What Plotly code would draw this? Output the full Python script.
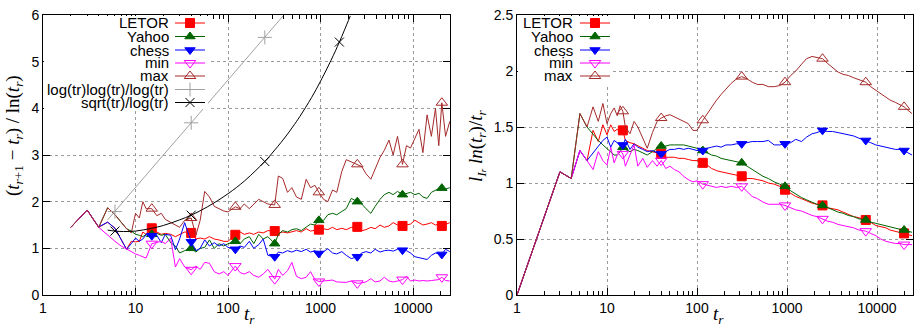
import plotly.graph_objects as go

# ---------------- data ----------------
XTICKS = [1, 10, 100, 1000, 10000]
XTICK_TEXT = ["1", "10", "100", "1000", "10000"]

# left panel: (t_{r+1} - t_r)/ln(t_r)
X_L = [2, 3, 4, 5, 6, 7, 8, 9, 10, 11, 12, 13,
       15, 17, 19, 21, 24, 27, 30, 34, 40,
       45, 50, 56, 63, 71, 80, 90, 100,
       120, 135, 150, 170, 190, 215, 240, 270, 320,
       350, 390, 440, 490, 550, 620, 700, 780, 870, 960,
       1080, 1200, 1350, 1500, 1700, 1900, 2150, 2500,
       2800, 3100, 3500, 3900, 4400, 4900, 5500, 6100, 6800, 7700,
       8500, 9400, 10500, 11600, 12800, 14200, 15800, 17500, 19000, 20500, 22500, 25000]

LETOR_L = [1.45, 1.82, 1.45, 1.56, 1.43, 1.20, 0.98, 1.15, 1.14, 1.15, 1.35, 1.30,
           1.43, 1.35, 1.30, 1.32, 1.30, 1.25, 1.30, 1.35, 1.33,
           1.20, 1.22, 1.20, 1.25, 1.20, 1.18, 1.15, 1.15,
           1.29, 1.35, 1.30, 1.33, 1.30, 1.35, 1.33, 1.38, 1.37,
           1.32, 1.35, 1.33, 1.35, 1.38, 1.35, 1.42, 1.37, 1.38, 1.40,
           1.42, 1.40, 1.45, 1.40, 1.43, 1.40, 1.45, 1.46,
           1.38, 1.40, 1.45, 1.42, 1.50, 1.45, 1.48, 1.55, 1.50, 1.48,
           1.50, 1.52, 1.60, 1.55, 1.50, 1.52, 1.55, 1.50, 1.52, 1.48, 1.52, 1.55]

YAHOO_L = [1.45, 1.82, 1.45, 1.87, 1.72, 1.55, 1.42, 1.37, 1.30, 1.28, 1.25, 1.30,
           1.30, 1.32, 1.28, 1.30, 1.12, 1.05, 0.90, 0.95, 1.00,
           0.92, 1.00, 1.02, 1.18, 1.00, 1.10, 1.05, 1.10,
           1.15, 1.10, 1.20, 1.25, 1.10, 1.30, 1.20, 1.25, 1.10,
           1.30, 1.38, 1.35, 1.40, 1.42, 1.38, 1.46, 1.52, 1.50, 1.60,
           1.60, 1.72, 1.75, 1.72, 1.79, 1.85, 2.07, 2.00,
           1.95, 1.85, 1.75, 1.90, 2.05, 2.15, 2.20, 2.15, 2.22, 2.15,
           2.18, 2.20, 2.15, 2.18, 2.10, 2.07, 2.20, 2.25, 2.28, 2.29, 2.27, 2.30]

CHESS_L = [1.45, 1.82, 1.46, 1.56, 1.43, 1.20, 0.98, 1.10, 1.22, 1.15, 1.20, 1.29,
           1.27, 1.28, 1.12, 1.30, 1.28, 0.97, 1.20, 1.55, 1.14,
           0.95, 1.00, 1.18, 1.05, 1.12, 1.05, 1.10, 1.02,
           0.98, 1.05, 1.02, 1.15, 1.00, 1.08, 1.20, 0.85, 0.82,
           0.92, 0.90, 0.95, 0.92, 0.96, 0.93, 0.98, 0.92, 0.95, 0.89,
           0.93, 0.99, 0.90, 0.88, 0.93, 0.85, 0.78, 0.82,
           0.90, 0.93, 0.90, 0.98, 0.92, 0.95, 0.96, 0.94, 0.98, 0.96,
           0.95, 0.90, 0.82, 0.80, 0.78, 0.76, 0.85, 0.90, 0.88, 0.87, 0.98, 0.93]

MIN_L = [1.45, 1.82, 1.45, 1.28, 1.15, 1.05, 0.98, 0.93, 0.88, 0.85, 0.82, 0.79,
         1.10, 1.12, 1.15, 1.10, 1.22, 0.60, 0.78, 0.60, 0.54,
         0.62, 0.55, 0.70, 0.68, 0.50, 0.45, 0.50, 0.42,
         0.62, 0.48, 0.45, 0.50, 0.42, 0.38, 0.45, 0.55, 0.34,
         0.55, 0.42, 0.52, 0.70, 0.40, 0.35, 0.38, 0.50, 0.33, 0.29,
         0.30, 0.30, 0.32, 0.28, 0.27, 0.27, 0.30, 0.25,
         0.26, 0.28, 0.35, 0.28, 0.30, 0.38, 0.30, 0.28, 0.30, 0.33,
         0.40, 0.30, 0.32, 0.30, 0.31, 0.30, 0.31, 0.32, 0.33, 0.38, 0.31, 0.30]

MAX_L = [1.45, 1.82, 1.45, 1.87, 1.72, 1.55, 1.42, 1.33, 1.75, 1.65, 2.00, 1.85,
         1.85, 1.70, 1.75, 1.62, 1.55, 1.50, 1.45, 1.60, 1.65,
         1.28, 1.60, 2.22, 2.10, 1.90, 1.85, 1.80, 1.78,
         1.89, 1.85, 1.95, 1.85, 1.95, 2.05, 2.00, 1.95, 1.93,
         2.55, 2.50, 2.20, 2.30, 2.10, 2.05, 2.48, 2.30, 2.35, 2.20,
         2.05, 2.00, 2.25, 2.20, 2.65, 2.90, 2.85, 2.80,
         2.75, 2.60, 2.48, 2.70, 2.95, 3.10, 3.32, 3.00, 3.40, 2.80,
         3.20, 3.15, 3.35, 3.55, 3.05, 3.86, 3.40, 4.00, 3.20, 4.12, 3.40, 3.72]

# reference curves
LOG_X = [5, 6, 10, 20, 40, 100, 250, 394]
LOG_Y = [1.61, 1.79, 2.30, 3.00, 3.69, 4.60, 5.52, 5.98]
SQRT_X = [5, 6, 7.4, 10, 15, 20, 30, 40, 60, 100, 150, 200, 250, 300, 400, 500, 600,
          800, 1000, 1300, 1600, 1800, 2100]
SQRT_Y = [1.39, 1.37, 1.36, 1.37, 1.43, 1.49, 1.61, 1.71, 1.89, 2.17, 2.44, 2.67, 2.86, 3.04,
          3.34, 3.60, 3.83, 4.23, 4.58, 5.03, 5.42, 5.66, 5.98]
FUNC_MARK_X = [6, 40, 250, 1600]

MARK_X_L = [15, 40, 120, 320, 960, 2500, 7700, 20500]

# right panel: l_{I_r} ln(t_r)/t_r
X_R = [1, 2, 3, 4, 5, 6, 7, 8, 9, 10, 11, 12, 13, 14, 15, 16,
       18, 20, 22, 25, 28, 32, 36, 40,
       45, 50, 56, 63, 71, 80, 90, 100,
       116, 130, 145, 165, 185, 210, 240, 275, 314,
       360, 410, 470, 540, 620, 720, 830, 950,
       1100, 1250, 1450, 1650, 1900, 2150, 2480,
       2800, 3200, 3700, 4200, 4800, 5500, 6300, 7500,
       8500, 9700, 11000, 12500, 14000, 16000, 18000, 20000, 22000, 24500]

LETOR_R = [0, 0.69, 1.10, 1.04, 1.29, 1.20, 1.47, 1.37, 1.52, 1.43, 1.52, 1.46, 1.48, 1.45, 1.47, 1.38,
           1.36, 1.35, 1.33, 1.31, 1.29, 1.28, 1.27, 1.26,
           1.23, 1.23, 1.23, 1.22, 1.22, 1.21, 1.20, 1.20,
           1.18, 1.16, 1.13, 1.11, 1.10, 1.09, 1.08, 1.07, 1.06,
           1.04, 1.04, 1.03, 1.02, 1.00, 0.99, 0.97, 0.94,
           0.91, 0.88, 0.86, 0.84, 0.82, 0.81, 0.80,
           0.78, 0.77, 0.76, 0.74, 0.72, 0.70, 0.69, 0.67,
           0.65, 0.62, 0.61, 0.60, 0.58, 0.57, 0.56, 0.55, 0.54, 0.53]

YAHOO_R = [0, 0.69, 1.10, 1.04, 1.62, 1.50, 1.43, 1.38, 1.34, 1.31, 1.28, 1.25, 1.25, 1.28, 1.32, 1.30,
           1.28, 1.30, 1.29, 1.27, 1.25, 1.28, 1.31, 1.33,
           1.33, 1.34, 1.34, 1.34, 1.34, 1.33, 1.32, 1.31,
           1.29, 1.27, 1.25, 1.24, 1.22, 1.21, 1.20, 1.19, 1.18,
           1.15, 1.12, 1.09, 1.06, 1.04, 1.01, 0.99, 0.97,
           0.93, 0.90, 0.87, 0.85, 0.83, 0.81, 0.80,
           0.78, 0.76, 0.74, 0.73, 0.71, 0.70, 0.68, 0.67,
           0.65, 0.64, 0.63, 0.62, 0.61, 0.60, 0.59, 0.58, 0.57, 0.56]

CHESS_R = [0, 0.69, 1.10, 1.04, 1.29, 1.20, 1.27, 1.33, 1.38, 1.41, 1.32, 1.38, 1.36, 1.33, 1.34, 1.39,
           1.30, 1.35, 1.32, 1.30, 1.28, 1.29, 1.27, 1.26,
           1.28, 1.30, 1.30, 1.31, 1.30, 1.31, 1.30, 1.29,
           1.29, 1.31, 1.32, 1.33, 1.32, 1.34, 1.34, 1.35, 1.35,
           1.36, 1.37, 1.37, 1.37, 1.38, 1.34, 1.34, 1.35,
           1.36, 1.39, 1.37, 1.41, 1.44, 1.45, 1.47,
           1.46, 1.46, 1.45, 1.44, 1.43, 1.42, 1.40, 1.38,
           1.36, 1.34, 1.33, 1.32, 1.31, 1.30, 1.30, 1.29, 1.27, 1.25]

MIN_R = [0, 0.69, 1.10, 1.04, 1.29, 1.20, 1.12, 1.28, 1.20, 1.16, 1.32, 1.18, 1.25, 1.29, 1.26, 1.15,
         1.25, 1.34, 1.15, 1.22, 1.14, 1.20, 1.15, 1.20,
         1.13, 1.15, 1.12, 1.10, 1.06, 1.03, 1.01, 1.02,
         0.99, 0.98, 0.97, 0.96, 0.97, 0.96, 0.97, 0.96, 0.97,
         0.92, 0.88, 0.86, 0.83, 0.81, 0.81, 0.81, 0.80,
         0.78, 0.76, 0.75, 0.73, 0.71, 0.70, 0.68,
         0.66, 0.65, 0.63, 0.62, 0.61, 0.60, 0.58, 0.57,
         0.55, 0.53, 0.50, 0.48, 0.47, 0.46, 0.46, 0.45, 0.45, 0.45]

MAX_R = [0, 0.69, 1.10, 1.04, 1.62, 1.50, 1.68, 1.55, 1.71, 1.53, 1.62, 1.67, 1.60, 1.69, 1.64, 1.50,
         1.44, 1.55, 1.50, 1.40, 1.31, 1.45, 1.55, 1.58,
         1.60, 1.61, 1.59, 1.57, 1.55, 1.53, 1.47, 1.47,
         1.56, 1.62, 1.68, 1.74, 1.79, 1.84, 1.89, 1.93, 1.95,
         1.93, 1.90, 1.88, 1.88, 1.86, 1.86, 1.87, 1.90,
         1.96, 2.00, 2.06, 2.11, 2.13, 2.12, 2.11,
         2.07, 2.03, 1.99, 1.97, 1.96, 1.94, 1.92, 1.90,
         1.86, 1.83, 1.80, 1.77, 1.74, 1.72, 1.70, 1.68, 1.65, 1.62]

MARK_X_R = [15, 40, 116, 314, 950, 2480, 7500, 20000]

NAMES = ["LETOR", "Yahoo", "chess", "min", "max"]
FUNC_NAMES = ["log(tr)log(tr)/log(tr)", "sqrt(tr)/log(tr)"]

# ---------------- styles ----------------
W, H = 914, 327
STYLES = [
    dict(color="#ff0000", symbol="square", size=9),
    dict(color="#006400", symbol="triangle-up", size=9),
    dict(color="#0000ff", symbol="triangle-down", size=9),
    dict(color="#ff00ff", symbol="triangle-down-open", size=10),
    dict(color="#a52a2a", symbol="triangle-up-open", size=10),
]
FUNC_STYLES = [
    dict(color="#a0a0a0", symbol="cross-thin-open", size=10),
    dict(color="#000000", symbol="x-thin-open", size=9),
]

FONT = "Liberation Sans, Arial, sans-serif"
SERIF = "Liberation Serif, DejaVu Serif, serif"

fig = go.Figure()


def add_series(x, y, st, xa, ya, mark_x, shape="linear"):
    fig.add_trace(go.Scatter(x=x, y=y, mode="lines", xaxis=xa, yaxis=ya, showlegend=False,
                             line=dict(color=st["color"], width=1, shape=shape),
                             hoverinfo="skip"))
    mx = [m for m in mark_x if m in x]
    my = [y[x.index(m)] for m in mx]
    fig.add_trace(go.Scatter(x=mx, y=my, mode="markers", xaxis=xa, yaxis=ya, showlegend=False,
                             marker=dict(color=st["color"], symbol=st["symbol"], size=st["size"],
                                         line=dict(color=st["color"], width=1)),
                             hoverinfo="skip"))


for ser, st in zip([LETOR_L, YAHOO_L, CHESS_L, MIN_L, MAX_L], STYLES):
    add_series(X_L, ser, st, "x", "y", MARK_X_L)
add_series(LOG_X, LOG_Y, FUNC_STYLES[0], "x", "y", FUNC_MARK_X)
add_series(SQRT_X, SQRT_Y, FUNC_STYLES[1], "x", "y", FUNC_MARK_X, shape="spline")

for ser, st in zip([LETOR_R, YAHOO_R, CHESS_R, MIN_R, MAX_R], STYLES):
    add_series(X_R, ser, st, "x2", "y2", MARK_X_R)

# ---------------- manual gnuplot-style legends (pixel overlay axis) ----------------
ROWS = [23, 36.5, 50, 63, 76, 89.5, 102.5]


def white_box(x0, x1, y0, y1):
    fig.add_trace(go.Scatter(x=[x0, x1, x1, x0, x0], y=[y0, y0, y1, y1, y0], mode="lines",
                             fill="toself", fillcolor="white", line=dict(width=0, color="white"),
                             xaxis="x3", yaxis="y3", showlegend=False, hoverinfo="skip"))


def legend(entries, styles, text_right, x0, x1):
    for i, (name, st) in enumerate(zip(entries, styles)):
        yy = ROWS[i]
        fig.add_trace(go.Scatter(x=[x0, x1], y=[yy, yy], mode="lines", xaxis="x3", yaxis="y3",
                                 showlegend=False, line=dict(color=st["color"], width=1),
                                 hoverinfo="skip", cliponaxis=False))
        fig.add_trace(go.Scatter(x=[(x0 + x1) / 2], y=[yy], mode="markers", xaxis="x3", yaxis="y3",
                                 showlegend=False, hoverinfo="skip", cliponaxis=False,
                                 marker=dict(color=st["color"], symbol=st["symbol"], size=st["size"],
                                             line=dict(color=st["color"], width=1))))
        fig.add_annotation(x=text_right / W, y=1 - yy / H, xref="paper", yref="paper",
                           text=name, showarrow=False, xanchor="right", yanchor="middle",
                           font=dict(family=FONT, size=15, color="black"))


# boxes hide the dotted grid behind the keys (as in the gnuplot original)
white_box(44, 208, 16, 109)
white_box(518, 613, 16, 84)
legend(NAMES + FUNC_NAMES, STYLES + FUNC_STYLES, 171, 175, 205)
legend(NAMES, STYLES, 575, 580, 610)

# ---------------- axes ----------------
minor_vals = [m * 10 ** k for k in range(5) for m in range(2, 10)]
L0, L1 = 43 / W, 450 / W
R0, R1 = 517 / W, 913 / W
B, T = (H - 295) / H, (H - 15) / H

xcommon = dict(type="log", range=[0, 4.4], tickmode="array", tickvals=XTICKS, ticktext=XTICK_TEXT,
               ticks="inside", ticklen=7, tickcolor="black", showline=True, linecolor="black",
               linewidth=1, mirror="allticks", showgrid=True, gridcolor="#9a9a9a", griddash="dot",
               gridwidth=1, zeroline=False, automargin=False,
               tickfont=dict(family=FONT, size=14, color="black"),
               minor=dict(tickmode="array", tickvals=minor_vals, ticks="inside", ticklen=4,
                          tickcolor="black", showgrid=False))
ycommon = dict(ticks="inside", ticklen=7, tickcolor="black", showline=True, linecolor="black",
               linewidth=1, mirror="allticks", showgrid=True, gridcolor="#9a9a9a", griddash="dot",
               gridwidth=1, zeroline=False, automargin=False,
               tickfont=dict(family=FONT, size=14, color="black"))
hidden = dict(showgrid=False, zeroline=False, showticklabels=False, ticks="", showline=False,
              fixedrange=True, automargin=False)

fig.update_layout(
    width=W, height=H, margin=dict(l=0, r=0, t=0, b=0, autoexpand=False),
    paper_bgcolor="white", plot_bgcolor="rgba(0,0,0,0)", showlegend=False,
    xaxis=dict(domain=[L0, L1], anchor="y", **xcommon),
    yaxis=dict(domain=[B, T], anchor="x", range=[0, 6], dtick=1, **ycommon),
    xaxis2=dict(domain=[R0, R1], anchor="y2", **xcommon),
    yaxis2=dict(domain=[B, T], anchor="x2", range=[0, 2.5], dtick=0.5, **ycommon),
    xaxis3=dict(domain=[0, 1], anchor="y3", range=[0, W], **hidden),
    yaxis3=dict(domain=[0, 1], anchor="x3", range=[H, 0], **hidden),
)

# axis titles (math-style)
tr = "<i>t</i><sub><i>r</i></sub>"
TITLE_FONT = dict(family=SERIF, size=19, color="black")
fig.add_annotation(x=249 / W, y=1 - 315 / H, xref="paper", yref="paper", text=tr, showarrow=False,
                   xanchor="center", yanchor="middle", font=TITLE_FONT)
fig.add_annotation(x=718 / W, y=1 - 315 / H, xref="paper", yref="paper", text=tr, showarrow=False,
                   xanchor="center", yanchor="middle", font=TITLE_FONT)
fig.add_annotation(x=14 / W, y=1 - 136 / H, xref="paper", yref="paper", textangle=-90,
                   xanchor="center", yanchor="middle",
                   text="(<i>t</i><sub><i>r</i>+1</sub> − <i>t</i><sub><i>r</i></sub>) / ln(" + tr + ")",
                   showarrow=False, font=dict(family=SERIF, size=19, color="black"))
fig.add_annotation(x=477 / W, y=1 - 146 / H, xref="paper", yref="paper", textangle=-90,
                   xanchor="center", yanchor="middle",
                   text="<i>l</i><sub><i>I</i><span style='font-size:9px'><i>r</i></span></sub> "
                        "<i>ln</i>(" + tr + ")/" + tr,
                   showarrow=False, font=dict(family=SERIF, size=19, color="black"))

fig.write_html("out.html")
